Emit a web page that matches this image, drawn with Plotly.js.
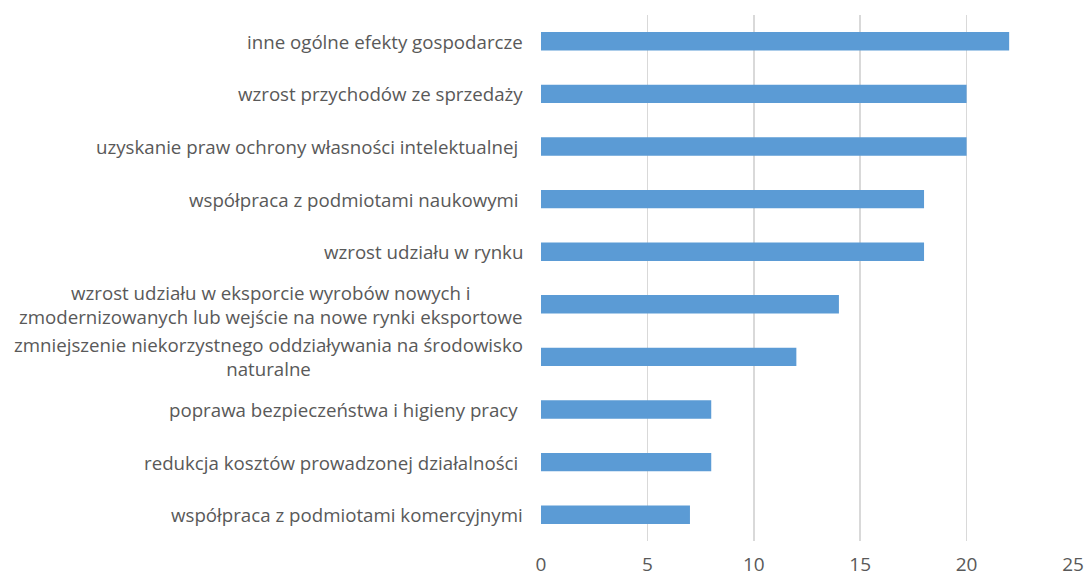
<!DOCTYPE html>
<html>
<head>
<meta charset="utf-8">
<script src="https://cdn.plot.ly/plotly-3.0.1.min.js"></script>
<style>
html,body{margin:0;padding:0;background:#fff;}
#chart{width:1088px;height:578px;}
</style>
</head>
<body>
<div id="chart"></div>
<script>
const categories = [
  "inne ogólne efekty gospodarcze",
  "wzrost przychodów ze sprzedaży",
  "uzyskanie praw ochrony własności intelektualnej\u00a0",
  "współpraca z podmiotami naukowymi\u00a0",
  "wzrost udziału w rynku",
  "wzrost udziału w eksporcie wyrobów nowych i<br>zmodernizowanych lub wejście na nowe rynki eksportowe",
  "zmniejszenie niekorzystnego oddziaływania na środowisko<br>naturalne",
  "poprawa bezpieczeństwa i higieny pracy\u00a0",
  "redukcja kosztów prowadzonej działalności\u00a0",
  "współpraca z podmiotami komercyjnymi"
];
const values = [22, 20, 20, 18, 18, 14, 12, 8, 8, 7];
const xTicks = [0, 5, 10, 15, 20, 25];

const ids = categories.map((c, i) => "c" + i);

const trace = {
  type: "bar",
  orientation: "h",
  y: ids,
  x: values,
  marker: {color: "#5B9BD5", line: {width: 0}},
  hoverinfo: "x"
};

const annotations = categories.map((c, i) => ({
  xref: "paper", yref: "y",
  x: 0, y: ids[i],
  xanchor: "right", yanchor: "middle",
  xshift: -16,
  text: c,
  align: "center",
  showarrow: false,
  font: {family: "Open Sans, sans-serif", size: 18.7, color: "#595959"}
}));

const layout = {
  width: 1088, height: 578,
  margin: {l: 541, r: 15, t: 15, b: 37, pad: 0},
  paper_bgcolor: "#fff",
  plot_bgcolor: "#fff",
  showlegend: false,
  bargap: 0.65,
  xaxis: {
    range: [0, 25],
    tickvals: xTicks,
    ticktext: xTicks.map(String),
    showgrid: true,
    gridcolor: "#d9d9d9",
    gridwidth: 1.5,
    zeroline: false,
    showline: false,
    ticks: "",
    ticklabelstandoff: 10,
    tickfont: {family: "Open Sans, sans-serif", size: 19, color: "#595959"},
    fixedrange: true
  },
  yaxis: {
    categoryorder: "array",
    categoryarray: ids.slice().reverse(),
    autorange: true,
    showticklabels: false,
    showgrid: false,
    zeroline: false,
    showline: false,
    ticks: "",
    fixedrange: true
  },
  annotations: annotations
};

Plotly.newPlot("chart", [trace], layout, {displayModeBar: false, staticPlot: true});
</script>
</body>
</html>
